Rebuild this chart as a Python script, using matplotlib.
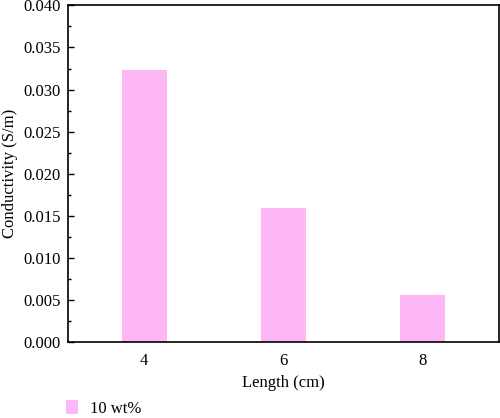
import matplotlib
matplotlib.use("Agg")
import matplotlib.pyplot as plt
from matplotlib.ticker import MultipleLocator
from matplotlib.patches import Patch

lengths = [4, 6, 8]
conductivity = [0.0323, 0.0159, 0.0056]
series_label = "10 wt%"
yticks = [0.000, 0.005, 0.010, 0.015, 0.020, 0.025, 0.030, 0.035, 0.040]

plt.rcParams['font.family'] = ['Liberation Serif', 'DejaVu Serif']
plt.rcParams['font.size'] = 12

fig = plt.figure(figsize=(5.0, 4.18), dpi=100)
ax = fig.add_axes([0.136, 0.182, 0.862, 0.805])
color = '#FDB7F6'
ax.bar(lengths, conductivity, width=0.645, color=color)
ax.set_xlim(2.91, 9.09)
ax.set_ylim(0, 0.040)
ax.set_xticks(lengths)
ax.set_xticklabels([str(v) for v in lengths])
ax.set_yticks(yticks)
ax.set_yticklabels([f"{v:.3f}" for v in yticks])
ax.yaxis.set_minor_locator(MultipleLocator(0.0025))
ax.tick_params(axis='y', which='major', direction='in', length=4, width=1, labelsize=12, pad=5)
ax.tick_params(axis='y', which='minor', direction='in', length=2.5, width=1)
ax.tick_params(axis='x', which='major', length=0, labelsize=12, pad=8)
for s in ax.spines.values():
    s.set_linewidth(1.2)
ax.set_xlabel("Length (cm)", fontsize=12, labelpad=4)
ax.set_ylabel("Conductivity (S/m)", fontsize=12, labelpad=4)

handle = Patch(facecolor=color, edgecolor='none')
fig.legend([handle], [series_label], loc='center left', bbox_to_anchor=(0.118, 0.022),
           frameon=False, fontsize=12, handlelength=0.75, handleheight=0.9,
           handletextpad=0.7, borderaxespad=0)

fig.savefig("out.png", dpi=100)
